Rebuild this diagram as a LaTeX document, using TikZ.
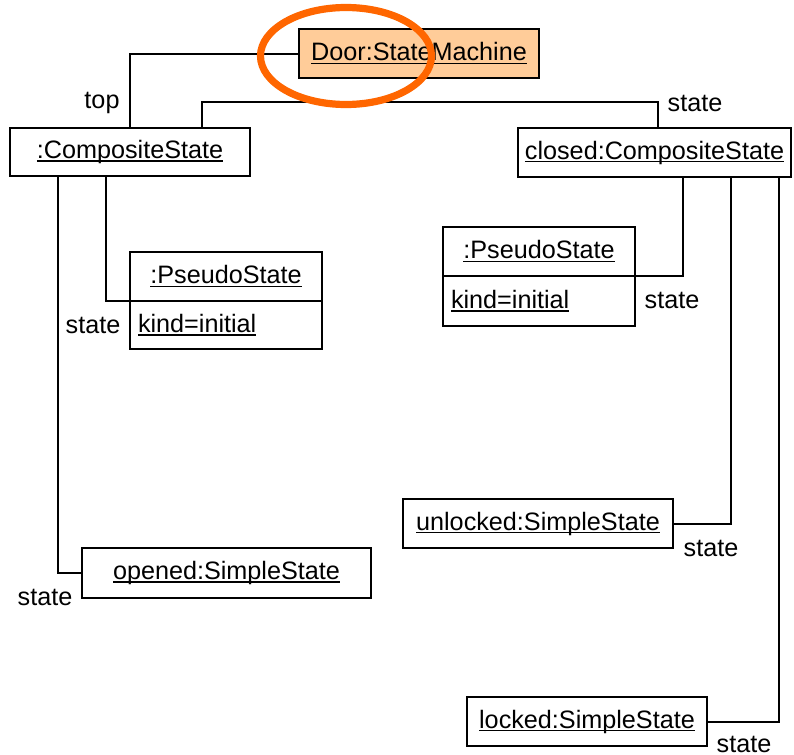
\documentclass[tikz,border=0pt]{standalone}
\usepackage{fontspec}
\setmainfont{Liberation Sans}
\usepackage{xcolor}
\usetikzlibrary{positioning,shapes.geometric}

\definecolor{peach}{HTML}{FFCC99}
\definecolor{markorange}{HTML}{FF6600}

% underlined object name, rule close to the baseline
\newcommand\ulname[1]{\setbox0\hbox{#1}\rlap{\rule[-1.7pt]{\wd0}{0.85pt}}\box0}

\begin{document}
\begin{tikzpicture}[
    x=0.5pt, y=-0.5pt,
    every node/.style={font=\fontsize{12.6}{15}\selectfont},
    obj/.style={
      rectangle, draw, line width=1pt, inner sep=0pt,
      minimum width=120pt, minimum height=24.5pt
    },
    attr/.style={obj, minimum width=96pt, inner xsep=4pt, text width=88pt, align=left},
    link/.style={line width=1pt},
    role/.style={inner sep=0pt}
  ]
    \useasboundingbox (0,0) rectangle (794,755);

    % ── Objects ──
    \node[obj, fill=peach] (door) at (419,53.5) {\ulname{Door:StateMachine}};
    \node[obj, minimum height=24pt] (comp) at (130,152) {\ulname{:CompositeState}};
    \node[obj, minimum width=136.5pt] (closed) at (654.5,152.5) {\ulname{closed:CompositeState}};

    \node[obj, minimum width=96pt] (pseudoA) at (226,276.5) {\ulname{:PseudoState}};
    \node[attr, minimum height=24pt, below=-1pt of pseudoA] (pseudoAattr) {\ulname{kind=initial}};
    \node[obj, minimum width=96pt] (pseudoB) at (539,251.5) {\ulname{:PseudoState}};
    \node[attr, minimum height=25pt, below=-1pt of pseudoB] (pseudoBattr) {\ulname{kind=initial}};

    \node[obj, minimum width=135pt] (unlocked) at (538,523.5) {\ulname{unlocked:SimpleState}};
    \node[obj] (locked) at (587,721.5) {\ulname{locked:SimpleState}};
    \node[obj, minimum width=144.5pt, minimum height=25pt] (opened) at (226.5,573) {\ulname{opened:SimpleState}};

    % ── Links ──
    \draw[link] (door.west) -| (comp.north);
    \draw[link] ([xshift=36pt]comp.north) -- ++(0,-25) -| ([xshift=1.75pt]closed.north);
    \draw[link] ([xshift=-12pt]comp.south) |- ([yshift=0.5pt]pseudoA.south west);
    \draw[link] ([xshift=-36pt]comp.south) |- (opened.west);
    \draw[link] ([xshift=14.25pt]closed.south) |- ([yshift=0.5pt]pseudoB.south east);
    \draw[link] ([xshift=38.25pt]closed.south) |- (unlocked.east);
    \draw[link] ([xshift=62.25pt]closed.south) |- (locked.east);

    % ── Role names ──
    \node[role] (rtop) at (102,103) {top};
    \node[role] (rclosed) at (695,103) {state};
    \node[role] (rpseudoA) at (93,325) {state};
    \node[role] (rpseudoB) at (672,300) {state};
    \node[role] (runlocked) at (711,548) {state};
    \node[role] (rlocked) at (744,744) {state};
    \node[role] (ropened) at (45,597) {state};

    % ── Highlight ──
    \node[ellipse, draw=markorange, line width=3.6pt, inner sep=0pt,
          minimum width=85.5pt, minimum height=48.5pt] (mark) at (346,56) {};
  \end{tikzpicture}
\end{document}
